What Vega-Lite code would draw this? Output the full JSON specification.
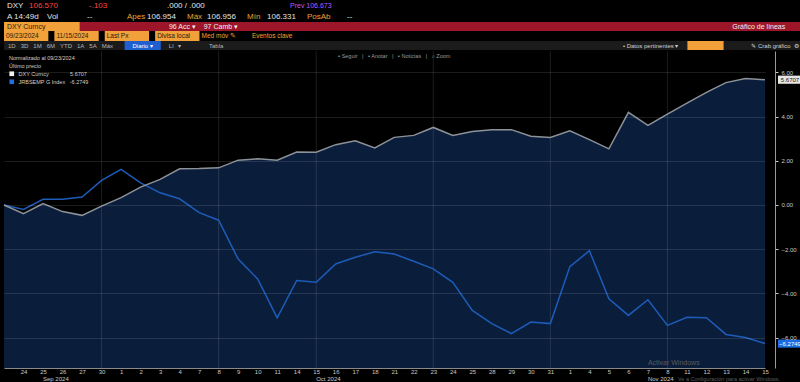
{
  "$schema": "https://vega.github.io/schema/vega-lite/v6.json",
  "background": "#000000",
  "padding": 0,
  "spacing": 0,
  "resolve": {"scale": {"fill": "independent"}, "legend": {"fill": "independent"}},
  "config": {"view": {"stroke": null}, "font": "Liberation Sans"},
  "datasets": {
    "main": [
      {"date":"2024-09-23","dxy":0.00,"em":0.00},
      {"date":"2024-09-24","dxy":-0.39,"em":-0.20},
      {"date":"2024-09-25","dxy":0.06,"em":0.26},
      {"date":"2024-09-26","dxy":-0.30,"em":0.26},
      {"date":"2024-09-27","dxy":-0.47,"em":0.36},
      {"date":"2024-09-30","dxy":-0.05,"em":1.11},
      {"date":"2024-10-01","dxy":0.33,"em":1.61},
      {"date":"2024-10-02","dxy":0.81,"em":1.00},
      {"date":"2024-10-03","dxy":1.16,"em":0.55},
      {"date":"2024-10-04","dxy":1.64,"em":0.28},
      {"date":"2024-10-07","dxy":1.65,"em":-0.35},
      {"date":"2024-10-08","dxy":1.68,"em":-0.69},
      {"date":"2024-10-09","dxy":2.03,"em":-2.45},
      {"date":"2024-10-10","dxy":2.09,"em":-3.35},
      {"date":"2024-10-11","dxy":2.03,"em":-5.11},
      {"date":"2024-10-14","dxy":2.40,"em":-3.42},
      {"date":"2024-10-15","dxy":2.39,"em":-3.50},
      {"date":"2024-10-16","dxy":2.73,"em":-2.67},
      {"date":"2024-10-17","dxy":2.91,"em":-2.37},
      {"date":"2024-10-18","dxy":2.58,"em":-2.12},
      {"date":"2024-10-21","dxy":3.06,"em":-2.22},
      {"date":"2024-10-22","dxy":3.15,"em":-2.55},
      {"date":"2024-10-23","dxy":3.51,"em":-2.89},
      {"date":"2024-10-24","dxy":3.15,"em":-3.50},
      {"date":"2024-10-25","dxy":3.33,"em":-4.77},
      {"date":"2024-10-28","dxy":3.41,"em":-5.37},
      {"date":"2024-10-29","dxy":3.41,"em":-5.82},
      {"date":"2024-10-30","dxy":3.11,"em":-5.30},
      {"date":"2024-10-31","dxy":3.06,"em":-5.37},
      {"date":"2024-11-01","dxy":3.36,"em":-2.79},
      {"date":"2024-11-04","dxy":2.96,"em":-2.07},
      {"date":"2024-11-05","dxy":2.54,"em":-4.25},
      {"date":"2024-11-06","dxy":4.19,"em":-5.00},
      {"date":"2024-11-07","dxy":3.60,"em":-4.29},
      {"date":"2024-11-08","dxy":4.11,"em":-5.45},
      {"date":"2024-11-11","dxy":4.61,"em":-5.08},
      {"date":"2024-11-12","dxy":5.10,"em":-5.10},
      {"date":"2024-11-13","dxy":5.54,"em":-5.86},
      {"date":"2024-11-14","dxy":5.73,"em":-6.00},
      {"date":"2024-11-15","dxy":5.6707,"em":-6.2749}
    ]
  },
  "vconcat": [
    {
      "width": 800, "height": 11,
      "view": {"fill": "#000000", "stroke": null},
      "layer": [
        {"data": {"values": [{"t":"DXY"},{"t":".000 / .000"}]},
         "mark": {"type":"text","align":"left","baseline":"middle","dx":3,"fontSize":8,"color":"#e6e6e6"},
         "encoding": {"x": {"field":"t","type":"nominal","bandPosition":0,"axis":null,"scale":{"type":"band","paddingInner":0,"paddingOuter":0,"domain":["DXY","106.570","_2","_3","-.103","_5","_6","_7",".000 / .000","_9","_10","_11","_12","_13","Prev 106.673","_15","_16","_17","_18","_19","_20","_21","_22","_23","_24","_25","_26","_27","_28","_29","_30","_31","_32","_33","_34","_35","_36","_37","_38","_39"]}},"text":{"field":"t"}}},
        {"data": {"values": [{"t":"106.570"},{"t":"-.103"}]},
         "mark": {"type":"text","align":"left","baseline":"middle","dx":5,"fontSize":8,"color":"#ff4545"},
         "encoding": {"x": {"field":"t","type":"nominal","bandPosition":0,"axis":null},"text":{"field":"t"}}},
        {"data": {"values": [{"t":"Prev 106.673"}]},
         "mark": {"type":"text","align":"left","baseline":"middle","dx":6,"fontSize":7,"color":"#b35cff"},
         "encoding": {"x": {"field":"t","type":"nominal","bandPosition":0,"axis":null},"text":{"field":"t"}}}
      ]
    },
    {
      "width": 800, "height": 11,
      "view": {"fill": "#000000", "stroke": null},
      "layer": [
        {"data": {"values": [{"t":"A 14:49d"},{"t":"Vol"},{"t":"--"},{"t":"106.954"},{"t":"106.956"},{"t":"106.331"},{"t":"-- "}]},
         "mark": {"type":"text","align":"left","baseline":"middle","dx":3,"fontSize":8,"color":"#e0e0e0"},
         "encoding": {"x": {"field":"t","type":"nominal","bandPosition":0,"axis":null,"scale":{"type":"band","paddingInner":0,"paddingOuter":0,"domain":["A 14:49d","_1","Vol","_3","--","_5","Apes","106.954","_8","Máx","106.956","_11","Mín","106.331","_14","PosAb","_16","-- ","_18","_19","_20","_21","_22","_23","_24","_25","_26","_27","_28","_29","_30","_31","_32","_33","_34","_35","_36","_37","_38","_39"]}},"text":{"field":"t"}}},
        {"data": {"values": [{"t":"Apes"},{"t":"Máx"},{"t":"Mín"},{"t":"PosAb"}]},
         "mark": {"type":"text","align":"left","baseline":"middle","dx":3,"fontSize":8,"color":"#f0a030"},
         "encoding": {"x": {"field":"t","type":"nominal","bandPosition":0,"axis":null},"text":{"field":"t"}}}
      ]
    },
    {
      "width": 800, "height": 9,
      "view": {"fill": "#9c1528", "stroke": null},
      "layer": [
        {"data": {"values": [{"t":"DXY Curncy"}]},
         "mark": {"type":"rect","color":"#f2a13a"},
         "encoding": {"x": {"field":"t","type":"nominal","axis":null,"scale":{"type":"band","paddingInner":0.06,"paddingOuter":0,"domain":["DXY Curncy","_1","96 Acc ▾\u00a0\u00a0\u00a0\u00a097 Camb ▾","_3","_4","_5","_6","_7","_8","Gráfico de líneas"]}}}},
        {"data": {"values": [{"t":"DXY Curncy"}]},
         "mark": {"type":"text","align":"left","baseline":"middle","dx":3,"fontSize":7,"color":"#2a1a0a"},
         "encoding": {"x": {"field":"t","type":"nominal","bandPosition":0,"axis":null},"text":{"field":"t"}}},
        {"data": {"values": [{"t":"96 Acc ▾\u00a0\u00a0\u00a0\u00a097 Camb ▾"},{"t":"Gráfico de líneas"}]},
         "mark": {"type":"text","align":"left","baseline":"middle","dx":4,"fontSize":7,"color":"#f0f0f0"},
         "encoding": {"x": {"field":"t","type":"nominal","bandPosition":0,"axis":null},"text":{"field":"t"}}}
      ]
    },
    {
      "width": 800, "height": 10,
      "view": {"fill": "#000000", "stroke": null},
      "layer": [
        {"data": {"values": [{"t":"09/23/2024"},{"t":"11/15/2024"},{"t":"Last Px"},{"t":"Divisa local"}]},
         "mark": {"type":"rect","color":"#f2a13a"},
         "encoding": {"x": {"field":"t","type":"nominal","axis":null,"scale":{"type":"band","paddingInner":0.12,"paddingOuter":0,"domain":["09/23/2024","11/15/2024","Last Px","Divisa local","Med móv ✎","Eventos clave","_6","_7","_8","_9","_10","_11","_12","_13","_14","_15"]}}}},
        {"data": {"values": [{"t":"09/23/2024"},{"t":"11/15/2024"},{"t":"Last Px"},{"t":"Divisa local"}]},
         "mark": {"type":"text","align":"left","baseline":"middle","dx":2,"fontSize":6.5,"color":"#2a1a0a"},
         "encoding": {"x": {"field":"t","type":"nominal","bandPosition":0,"axis":null},"text":{"field":"t"}}},
        {"data": {"values": [{"t":"Med móv ✎"},{"t":"Eventos clave"}]},
         "mark": {"type":"text","align":"left","baseline":"middle","dx":-4,"fontSize":6.5,"color":"#f0a030"},
         "encoding": {"x": {"field":"t","type":"nominal","bandPosition":0,"axis":null},"text":{"field":"t"}}}
      ]
    },
    {
      "width": 800, "height": 9,
      "view": {"fill": "#1b1b1b", "stroke": null},
      "layer": [
        {"data": {"values": [{"t":"Diario ▾"}]},
         "mark": {"type":"rect","color":"#1f5fd0"},
         "encoding": {"x": {"field":"t","type":"nominal","axis":null,"scale":{"type":"band","paddingInner":0.1,"paddingOuter":0,"domain":["1D\u00a0\u00a0\u00a03D\u00a0\u00a0\u00a01M\u00a0\u00a0\u00a06M\u00a0\u00a0\u00a0YTD\u00a0\u00a0\u00a01A\u00a0\u00a0\u00a05A\u00a0\u00a0\u00a0Máx","_1","_2","Diario ▾","Ll\u00a0\u00a0\u00a0▾","Tabla","_6","_7","_8","_9","_10","_11","_12","_13","_14","_15","• Datos pertinentes ▾","_box","_18","✎ Crab gráfico\u00a0\u00a0⚙"]}}}},
        {"data": {"values": [{"t":"_box"}]},
         "mark": {"type":"rect","color":"#f2a13a"},
         "encoding": {"x": {"field":"t","type":"nominal","axis":null}}},
        {"data": {"values": [{"t":"1D\u00a0\u00a0\u00a03D\u00a0\u00a0\u00a01M\u00a0\u00a0\u00a06M\u00a0\u00a0\u00a0YTD\u00a0\u00a0\u00a01A\u00a0\u00a0\u00a05A\u00a0\u00a0\u00a0Máx"},{"t":"Ll\u00a0\u00a0\u00a0▾"},{"t":"Tabla"}]},
         "mark": {"type":"text","align":"left","baseline":"middle","dx":4,"fontSize":6,"color":"#b4b4b4"},
         "encoding": {"x": {"field":"t","type":"nominal","bandPosition":0,"axis":null},"text":{"field":"t"}}},
        {"data": {"values": [{"t":"Diario ▾"}]},
         "mark": {"type":"text","align":"center","baseline":"middle","fontSize":6,"color":"#ffffff"},
         "encoding": {"x": {"field":"t","type":"nominal","bandPosition":0.5,"axis":null},"text":{"field":"t"}}},
        {"data": {"values": [{"t":"• Datos pertinentes ▾"},{"t":"✎ Crab gráfico\u00a0\u00a0⚙"}]},
         "mark": {"type":"text","align":"right","baseline":"middle","dx":-5,"fontSize":6,"color":"#d0d0d0"},
         "encoding": {"x": {"field":"t","type":"nominal","bandPosition":1,"axis":null},"text":{"field":"t"}}}
      ]
    },
    {
      "width": 761, "height": 317,
      "view": {"fill": "#000000", "stroke": null},
      "layer": [
        {"data": {"name": "main"},
         "mark": {"type":"area","color":"#0a1e3c","interpolate":"linear"},
         "encoding": {
           "x": {"field":"date","type":"ordinal","scale":{"type":"point","padding":0},
                 "axis":{"title":null,"labelExpr":"datum.value == '2024-09-23' ? '' : '' + (+substring(datum.value, 8, 10))","labelAngle":0,"labelFontSize":6,"labelColor":"#c8c8c8","labelPadding":0,"labelOverlap":false,"ticks":false,"grid":false,"domainColor":"#8a8a8a"}},
           "y": {"field":"dxy","type":"quantitative","scale":{"domain":[-7.38,6.97],"zero":false,"nice":false},
                 "axis":{"orient":"right","offset":10,"title":null,"values":[-6,-4,-2,0,2,4,6],"format":".2f","labelFontSize":6,"labelColor":"#c8c8c8","labelPadding":3,"tickSize":3,"tickColor":"#c8c8c8","domainColor":"#9a9a9a","grid":true,"gridColor":"#ffffff","gridOpacity":0.11,"zindex":1}},
           "y2": {"datum": -7.38}
         }},
        {"data": {"values": [{"date":"2024-09-30"},{"date":"2024-10-08"},{"date":"2024-10-15"},{"date":"2024-10-23"},{"date":"2024-10-31"},{"date":"2024-11-08"}]},
         "mark": {"type":"rule","color":"#ffffff","opacity":0.11,"strokeWidth":1},
         "encoding": {"x": {"field":"date","type":"ordinal"}}},
        {"mark": {"type":"rule","color":"#1f5fbf","strokeWidth":1.5},
         "encoding": {"x": {"datum":"2024-09-23","type":"ordinal"}}},
        {"data": {"name": "main"},
         "mark": {"type":"line","color":"#1d5cb8","strokeWidth":1.5},
         "encoding": {"x": {"field":"date","type":"ordinal"},"y": {"field":"em","type":"quantitative"}}},
        {"data": {"name": "main"},
         "mark": {"type":"line","color":"#8d9299","strokeWidth":1.5},
         "encoding": {"x": {"field":"date","type":"ordinal"},"y": {"field":"dxy","type":"quantitative"}}},
        {"data": {"values": [{"s":"DXY Curncy"},{"s":"JRBSEMP G Index"}]},
         "mark": {"type":"point","filled":true,"size":0,"shape":"square"},
         "encoding": {"fill": {"field":"s","type":"nominal","scale":{"range":["#f2f2f2","#1f6fe0"]},
           "legend":{"orient":"top-left","offset":3,"title":["Normalizado al 09/23/2024","Último precio"],"titleFontSize":5.5,"titleColor":"#cfcfcf","titleFontWeight":"normal","titlePadding":2,"labelFontSize":5.5,"labelColor":"#cfcfcf","symbolType":"square","symbolSize":22,"symbolOpacity":1,"symbolStrokeWidth":0,"rowPadding":1,"padding":2,"fillColor":"#000000","labelExpr":"datum.label == 'DXY Curncy' ? 'DXY Curncy\u00a0\u00a0\u00a0\u00a0\u00a0\u00a0\u00a0\u00a0\u00a0\u00a0\u00a0\u00a0\u00a0\u00a05.6707' : 'JRBSEMP G Index\u00a0\u00a0\u00a0-6.2749'"}}}},
        {"data": {"name": "main"},
         "transform": [{"filter": "datum.date == '2024-11-15'"}],
         "mark": {"type":"point","filled":true,"size":576,"opacity":1,"color":"#e6e6e6","shape":"M -1 -0.34 L 1 -0.34 L 1 0.34 L -1 0.34 Z","xOffset":25},
         "encoding": {"x": {"field":"date","type":"ordinal"},"y": {"field":"dxy","type":"quantitative"}}},
        {"data": {"name": "main"},
         "transform": [{"filter": "datum.date == '2024-11-15'"}],
         "mark": {"type":"text","fontSize":6,"color":"#111111","dx":25,"baseline":"middle"},
         "encoding": {"x": {"field":"date","type":"ordinal"},"y": {"field":"dxy","type":"quantitative"},"text":{"field":"dxy","format":".4f"}}},
        {"data": {"name": "main"},
         "transform": [{"filter": "datum.date == '2024-11-15'"}],
         "mark": {"type":"point","filled":true,"size":576,"opacity":1,"color":"#1a6ce0","shape":"M -1 -0.34 L 1 -0.34 L 1 0.34 L -1 0.34 Z","xOffset":25},
         "encoding": {"x": {"field":"date","type":"ordinal"},"y": {"field":"em","type":"quantitative"}}},
        {"data": {"name": "main"},
         "transform": [{"filter": "datum.date == '2024-11-15'"}],
         "mark": {"type":"text","fontSize":6,"color":"#ffffff","dx":25,"baseline":"middle"},
         "encoding": {"x": {"field":"date","type":"ordinal"},"y": {"field":"em","type":"quantitative"},"text":{"field":"em","format":".4f"}}},
        {"data": {"values": [{"t":"▪ Seguir\u00a0\u00a0\u00a0|\u00a0\u00a0\u00a0▪ Anotar\u00a0\u00a0\u00a0|\u00a0\u00a0\u00a0▪ Noticias\u00a0\u00a0\u00a0|\u00a0\u00a0\u00a0⌕ Zoom"}]},
         "mark": {"type":"text","fontSize":5.5,"color":"#9a9a9a","align":"center","baseline":"middle"},
         "encoding": {"x": {"datum":"2024-10-21","type":"ordinal"},"y": {"datum":6.74},"text":{"field":"t"}}},
        {"data": {"values": [{"date":"2024-09-25","m":"Sep 2024"},{"date":"2024-10-15","m":"Oct 2024"},{"date":"2024-11-07","m":"Nov 2024"}]},
         "mark": {"type":"text","fontSize":6,"color":"#c8c8c8","align":"left","baseline":"middle"},
         "encoding": {"x": {"field":"date","type":"ordinal"},"y": {"datum":-7.88},"text":{"field":"m"}}},
        {"data": {"values": [{"t":"Activar Windows"}]},
         "mark": {"type":"text","fontSize":7,"color":"#5a5a5a","align":"left","baseline":"middle"},
         "encoding": {"x": {"datum":"2024-11-07","type":"ordinal"},"y": {"datum":-7.15},"text":{"field":"t"}}},
        {"data": {"values": [{"t":"Ve a Configuración para activar Windows."}]},
         "mark": {"type":"text","fontSize":5.5,"color":"#5a5a5a","align":"left","baseline":"middle","dx":30},
         "encoding": {"x": {"datum":"2024-11-07","type":"ordinal"},"y": {"datum":-7.88},"text":{"field":"t"}}}
      ]
    }
  ]
}
